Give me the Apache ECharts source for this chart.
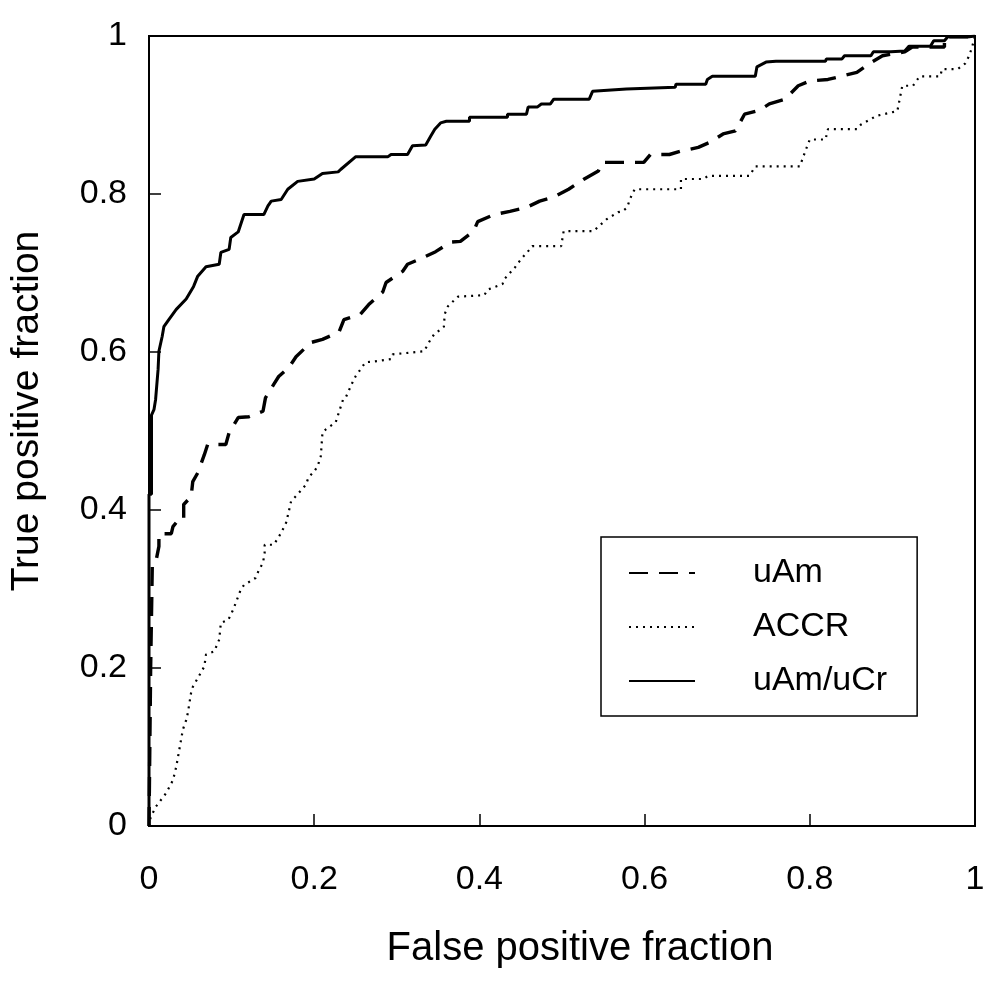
<!DOCTYPE html>
<html>
<head>
<meta charset="utf-8">
<script src="https://cdn.jsdelivr.net/npm/echarts@6/dist/echarts.min.js"></script>
<style>
html,body{margin:0;padding:0;background:#fff;}
#chart{width:1004px;height:985px;}
</style>
</head>
<body>
<div id="chart"></div>
<script>
var seriesNames = ['uAm', 'ACCR', 'uAm/uCr'];
var xTicks = [0, 0.2, 0.4, 0.6, 0.8, 1];
var yTicks = [0, 0.2, 0.4, 0.6, 0.8, 1];

// [false positive fraction, true positive fraction]
var uAmPoints = [[0,0],[0.002,0.2],[0.004,0.33],[0.008,0.333],[0.012,0.354],[0.012,0.37],[0.027,0.37],[0.029,0.379],[0.036,0.388],[0.042,0.388],[0.042,0.407],[0.051,0.417],[0.053,0.436],[0.059,0.447],[0.067,0.47],[0.071,0.483],[0.093,0.483],[0.097,0.498],[0.108,0.517],[0.121,0.518],[0.138,0.525],[0.141,0.542],[0.151,0.559],[0.157,0.569],[0.169,0.58],[0.178,0.594],[0.196,0.612],[0.21,0.616],[0.23,0.625],[0.236,0.641],[0.256,0.648],[0.266,0.66],[0.283,0.676],[0.287,0.688],[0.307,0.702],[0.313,0.711],[0.335,0.721],[0.347,0.727],[0.365,0.739],[0.377,0.74],[0.393,0.753],[0.398,0.765],[0.418,0.774],[0.437,0.778],[0.457,0.783],[0.473,0.791],[0.49,0.796],[0.508,0.806],[0.527,0.819],[0.544,0.829],[0.548,0.84],[0.599,0.84],[0.607,0.85],[0.63,0.85],[0.643,0.854],[0.665,0.859],[0.68,0.866],[0.695,0.876],[0.71,0.88],[0.721,0.901],[0.739,0.906],[0.751,0.914],[0.77,0.92],[0.786,0.937],[0.8,0.943],[0.822,0.945],[0.838,0.949],[0.857,0.954],[0.872,0.965],[0.888,0.975],[0.915,0.98],[0.924,0.986],[0.963,0.986],[0.963,0.999],[0.993,0.999],[1,1]];

var accrPoints = [[0,0],[0.002,0.011],[0.008,0.024],[0.021,0.042],[0.029,0.058],[0.033,0.075],[0.041,0.122],[0.045,0.134],[0.047,0.143],[0.051,0.169],[0.053,0.176],[0.067,0.202],[0.069,0.217],[0.079,0.221],[0.085,0.236],[0.087,0.257],[0.096,0.261],[0.102,0.274],[0.111,0.299],[0.115,0.305],[0.129,0.314],[0.133,0.324],[0.138,0.333],[0.14,0.346],[0.14,0.356],[0.151,0.356],[0.16,0.371],[0.166,0.384],[0.169,0.397],[0.172,0.411],[0.18,0.42],[0.19,0.432],[0.193,0.441],[0.2,0.449],[0.204,0.455],[0.208,0.468],[0.21,0.498],[0.214,0.502],[0.226,0.511],[0.235,0.54],[0.238,0.542],[0.247,0.563],[0.25,0.569],[0.262,0.587],[0.272,0.588],[0.293,0.591],[0.295,0.597],[0.333,0.601],[0.341,0.616],[0.345,0.622],[0.357,0.632],[0.358,0.648],[0.362,0.658],[0.374,0.67],[0.406,0.672],[0.41,0.679],[0.428,0.686],[0.43,0.692],[0.443,0.707],[0.45,0.717],[0.461,0.73],[0.464,0.734],[0.499,0.734],[0.502,0.753],[0.538,0.753],[0.554,0.768],[0.568,0.777],[0.573,0.778],[0.579,0.783],[0.582,0.793],[0.586,0.802],[0.588,0.806],[0.644,0.806],[0.644,0.819],[0.671,0.819],[0.677,0.823],[0.727,0.823],[0.734,0.835],[0.788,0.835],[0.791,0.844],[0.797,0.861],[0.8,0.869],[0.819,0.869],[0.822,0.882],[0.857,0.882],[0.862,0.888],[0.881,0.899],[0.906,0.905],[0.912,0.937],[0.925,0.937],[0.933,0.949],[0.958,0.949],[0.96,0.958],[0.979,0.958],[0.988,0.965],[0.992,0.973],[0.996,0.984],[1,1]];

var uAmUCrPoints = [[0,0],[0,0.42],[0.003,0.42],[0.003,0.52],[0.006,0.527],[0.008,0.54],[0.011,0.578],[0.012,0.601],[0.016,0.62],[0.018,0.632],[0.024,0.641],[0.033,0.654],[0.045,0.667],[0.054,0.683],[0.059,0.696],[0.069,0.708],[0.085,0.711],[0.087,0.726],[0.097,0.73],[0.099,0.745],[0.108,0.752],[0.115,0.774],[0.139,0.774],[0.144,0.785],[0.148,0.791],[0.16,0.793],[0.168,0.806],[0.18,0.816],[0.2,0.819],[0.21,0.826],[0.229,0.828],[0.232,0.831],[0.25,0.847],[0.289,0.847],[0.293,0.85],[0.313,0.85],[0.319,0.861],[0.335,0.862],[0.341,0.873],[0.346,0.882],[0.353,0.89],[0.36,0.892],[0.388,0.892],[0.388,0.897],[0.434,0.897],[0.434,0.901],[0.457,0.901],[0.459,0.91],[0.47,0.91],[0.475,0.914],[0.486,0.914],[0.49,0.92],[0.533,0.92],[0.537,0.93],[0.578,0.933],[0.58,0.935],[0.637,0.935],[0.638,0.939],[0.674,0.939],[0.676,0.945],[0.682,0.949],[0.734,0.949],[0.736,0.961],[0.747,0.967],[0.759,0.968],[0.819,0.968],[0.82,0.971],[0.839,0.971],[0.842,0.975],[0.874,0.975],[0.877,0.98],[0.898,0.98],[0.9,0.981],[0.915,0.981],[0.92,0.987],[0.946,0.987],[0.95,0.994],[0.963,0.994],[0.967,0.999],[0.993,0.999],[1,1]];

var FONT = "'Liberation Sans', Arial, sans-serif";
var chart = echarts.init(document.getElementById('chart'), null, {renderer: 'canvas'});

function axisCommon(name) {
  return {
    type: 'value', min: 0, max: 1, interval: 0.2,
    name: name, nameLocation: 'middle',
    axisLine: {show: true, lineStyle: {color: '#000', width: 2}},
    axisTick: {show: true, inside: true, length: 12, lineStyle: {color: '#000', width: 1.5}},
    splitLine: {show: false},
    axisLabel: {color: '#000', fontFamily: FONT, fontSize: 34,
      formatter: function (v) { return String(v); }}
  };
}

var xAxis = axisCommon('False positive fraction');
xAxis.nameGap = 103;
xAxis.nameTextStyle = {color: '#000', fontFamily: FONT, fontSize: 40, padding: [0, 0, 0, 36]};
xAxis.axisLabel.margin = 37;

var yAxis = axisCommon('True positive fraction');
yAxis.nameGap = 102;
yAxis.nameTextStyle = {color: '#000', fontFamily: FONT, fontSize: 39, padding: [0, 0, 0, 40]};
yAxis.axisLabel.margin = 22;
yAxis.axisLabel.padding = [16, 0, 0, 0];

chart.setOption({
  animation: false,
  backgroundColor: '#fff',
  color: ['#000', '#000', '#000'],
  grid: {left: 148, right: 29, top: 36, bottom: 159, show: true, borderColor: '#000', borderWidth: 2, backgroundColor: 'transparent'},
  xAxis: xAxis,
  yAxis: yAxis,
  legend: {
    data: seriesNames,
    orient: 'vertical',
    left: 601, top: 537,
    padding: [19, 30, 18, 27],
    itemGap: 20,
    itemWidth: 66, itemHeight: 14,
    borderColor: '#000', borderWidth: 1.5,
    backgroundColor: '#fff',
    selectedMode: false,
    itemStyle: {color: 'rgba(0,0,0,0)', borderWidth: 0, opacity: 0},
    textStyle: {color: '#000', fontFamily: FONT, fontSize: 34, lineHeight: 34, padding: [0, 0, 0, 53]}
  },
  series: [
    {name: seriesNames[1], type: 'line', data: accrPoints, symbol: 'none', smooth: false,
      itemStyle: {color: '#000'},
      lineStyle: {color: '#000', width: 2.2, type: [2, 5]}, z: 2},
    {name: seriesNames[0], type: 'line', data: uAmPoints, symbol: 'none', smooth: false,
      itemStyle: {color: '#000'},
      lineStyle: {color: '#000', width: 3.4, type: [19, 11]}, z: 3},
    {name: seriesNames[2], type: 'line', data: uAmUCrPoints, symbol: 'none', smooth: false,
      itemStyle: {color: '#000'},
      lineStyle: {color: '#000', width: 3, type: 'solid'}, z: 4}
  ]
});
</script>
</body>
</html>
